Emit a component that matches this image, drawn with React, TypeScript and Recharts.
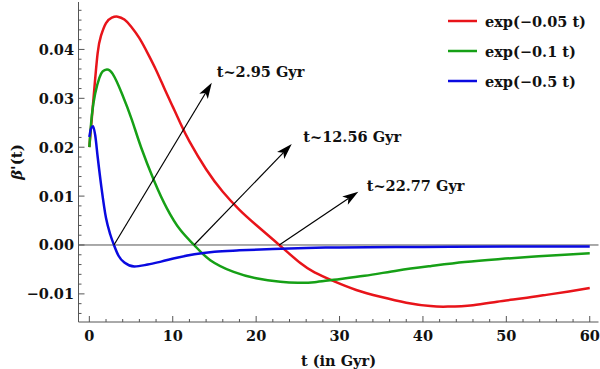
import { LineChart, Line, XAxis, YAxis, ReferenceLine, Legend } from 'recharts';

// curves: t in Gyr, v = beta'(t)
const redT = [0, 0.3, 0.6, 1.0, 1.4, 2, 2.7, 3.4, 4.2, 5, 6, 7, 8, 9, 10, 11, 12, 14, 16, 18, 20, 22.77, 25.3, 27, 29.3, 32, 34.9, 38, 40.9, 43, 46, 48.9, 52, 54.8, 57.5, 60];
const redV = [0.02, 0.026, 0.032, 0.0393, 0.0428, 0.0454, 0.0465, 0.0467, 0.0461, 0.0447, 0.0423, 0.0392, 0.0358, 0.0320, 0.0283, 0.0246, 0.0212, 0.0155, 0.0109, 0.0072, 0.0041, 0, -0.0037, -0.0056, -0.0074, -0.0092, -0.0106, -0.0118, -0.0125, -0.0126, -0.0123, -0.0116, -0.0109, -0.0102, -0.0095, -0.0088];

const greenT = [0, 0.3, 0.7, 1.2, 1.6, 2.1, 2.8, 3.9, 5.1, 6.2, 7.8, 9.3, 10.9, 12.56, 14.5, 17.3, 20, 22.9, 25, 27, 29.3, 33, 37, 41, 45, 49, 53, 57, 60];
const greenV = [0.02, 0.0265, 0.031, 0.0342, 0.0355, 0.0359, 0.035, 0.031, 0.0256, 0.02, 0.013, 0.0075, 0.0031, 0, -0.0031, -0.0055, -0.0068, -0.0075, -0.0077, -0.0076, -0.0071, -0.0063, -0.0052, -0.0043, -0.0035, -0.0029, -0.0024, -0.002, -0.0017];

const blueT = [0, 0.2, 0.45, 0.7, 1.0, 1.44, 2, 2.5, 2.95, 3.5, 4.2, 5.4, 7, 8.6, 10.5, 12.6, 15, 18, 22, 26, 30, 40, 50, 60];
const blueV = [0.0221, 0.0238, 0.0243, 0.0225, 0.018, 0.0119, 0.0055, 0.0022, 0, -0.0022, -0.0036, -0.0044, -0.004, -0.0034, -0.0026, -0.0019, -0.0014, -0.0011, -0.0008, -0.0006, -0.0005, -0.0004, -0.0003, -0.0003];

const seriesNames = ['exp(\u22120.05 t)', 'exp(\u22120.1 t)', 'exp(\u22120.5 t)'];
const seriesColors = ['#e8141a', '#16a016', '#0a0ae0'];

// zero crossings and their labels
const crossT = [2.95, 12.56, 22.77];
const crossLabels = ['t~2.95 Gyr', 't~12.56 Gyr', 't~22.77 Gyr'];
// arrow tips (data coords) and label offsets (px)
const tipT = [14.68, 24.27, 32.25];
const tipV = [0.0332, 0.02065, 0.0109];
const labelDx = [5, 11.6, 8.4];
const labelDy = [-11, -7.5, -6.7];

const xMajor = [0, 10, 20, 30, 40, 50, 60];
const yMajor = [-0.01, 0, 0.01, 0.02, 0.03, 0.04];
const yLabels = ['\u22120.01', '0.00', '0.01', '0.02', '0.03', '0.04'];

const xTicks: number[] = [];
for (let i = 0; i <= 30; i++) xTicks.push(i * 2);
const yTicks: number[] = [];
for (let i = -7; i <= 24; i++) yTicks.push(Math.round(i * 2) / 1000);

const toRows = (ts: number[], vs: number[]) => ts.map((t, i) => ({ t, v: vs[i] }));
const redData = toRows(redT, redV);
const greenData = toRows(greenT, greenV);
const blueData = toRows(blueT, blueV);

const FONT = '"DejaVu Serif", serif';
const FRAME = '#555';

const isXMajor = (v: number) => xMajor.includes(v);
const yMajorIndex = (v: number) => yMajor.findIndex((m) => Math.abs(m - v) < 1e-9);

const BottomTick = (props: any) => {
  const { x, y, payload } = props;
  const major = isXMajor(payload.value);
  return (
    <g>
      <line x1={x} x2={x} y1={y} y2={y - (major ? 6 : 3)} stroke={FRAME} />
      {major && (
        <text x={x} y={y + 13} textAnchor="middle" dominantBaseline="central" fontFamily={FONT} fontWeight="bold" fontSize={14.5} fill="#111">
          {payload.value}
        </text>
      )}
    </g>
  );
};

const TopTick = (props: any) => {
  const { x, y, payload } = props;
  const major = isXMajor(payload.value);
  return <line x1={x} x2={x} y1={y} y2={y + (major ? 6 : 3)} stroke={FRAME} />;
};

const LeftTick = (props: any) => {
  const { x, y, payload } = props;
  const idx = yMajorIndex(payload.value);
  return (
    <g>
      <line x1={x} x2={x + (idx >= 0 ? 6 : 3)} y1={y} y2={y} stroke={FRAME} />
      {idx >= 0 && (
        <text x={x - 4.5} y={y} textAnchor="end" dominantBaseline="central" fontFamily={FONT} fontWeight="bold" fontSize={14.5} fill="#111">
          {yLabels[idx]}
        </text>
      )}
    </g>
  );
};

const RightTick = (props: any) => {
  const { x, y, payload } = props;
  const major = yMajorIndex(payload.value) >= 0;
  return <line x1={x} x2={x - (major ? 6 : 3)} y1={y} y2={y} stroke={FRAME} />;
};

const makeArrow = (i: number) => (p: any) => {
  const { x1, y1, x2, y2 } = p;
  const a = Math.atan2(y2 - y1, x2 - x1);
  const c = Math.cos(a);
  const s = Math.sin(a);
  const L = 16;
  const W = 5;
  const bx = x2 - L * c;
  const by = y2 - L * s;
  const nx = x2 - L * 0.75 * c;
  const ny = y2 - L * 0.75 * s;
  return (
    <g>
      <line x1={x1} y1={y1} x2={nx} y2={ny} stroke="#000" strokeWidth={1.2} />
      <polygon points={`${x2},${y2} ${bx - s * W},${by + c * W} ${nx},${ny} ${bx + s * W},${by - c * W}`} fill="#000" />
      <text x={x2 + labelDx[i]} y={y2 + labelDy[i]} dominantBaseline="central" fontFamily={FONT} fontWeight="bold" fontSize={14.5} fill="#111">
        {crossLabels[i]}
      </text>
    </g>
  );
};

const renderLegend = () => (
  <div style={{ fontFamily: FONT, fontWeight: 'bold', fontSize: 14.5, color: '#111' }}>
    {seriesNames.map((name, i) => (
      <div key={name} style={{ height: 30, display: 'flex', alignItems: 'center' }}>
        <svg width={29} height={4} style={{ marginRight: 8 }}>
          <line x1={0} x2={29} y1={2} y2={2} stroke={seriesColors[i]} strokeWidth={2.5} />
        </svg>
        <span>{name}</span>
      </div>
    ))}
  </div>
);

const YLabel = (props: any) => {
  const { viewBox } = props;
  const cx = viewBox.x + 17;
  const cy = viewBox.y + viewBox.height / 2;
  return (
    <text x={cx} y={cy} transform={`rotate(-90 ${cx} ${cy})`} textAnchor="middle" dominantBaseline="central" fontFamily={FONT} fontWeight="bold" fontSize={15} fill="#111">
      <tspan fontStyle="italic">{'\u03b2'}</tspan>
      <tspan>{"'(t)"}</tspan>
    </text>
  );
};

const XLabel = (props: any) => {
  const { viewBox } = props;
  return (
    <text x={viewBox.x + viewBox.width / 2} y={viewBox.y + 38} textAnchor="middle" dominantBaseline="central" fontFamily={FONT} fontWeight="bold" fontSize={14.5} fill="#111">
      t (in Gyr)
    </text>
  );
};

const App = () => {
  const xDomain = [-1.3, 61.05];
  const yDomain = [-0.01575, 0.0497];
  return (
    <div style={{ position: 'absolute', left: 0, top: 0, width: 600, height: 369, background: '#fff' }}>
      <LineChart width={600} height={369} margin={{ top: 2, right: 1.5, bottom: 0, left: 0 }}>
        <XAxis
          type="number"
          dataKey="t"
          domain={xDomain}
          allowDataOverflow
          ticks={xTicks}
          interval={0}
          height={47}
          tickSize={0}
          tickMargin={0}
          tickLine={false}
          axisLine={{ stroke: FRAME }}
          tick={<BottomTick />}
          label={<XLabel />}
        />
        <XAxis
          xAxisId="top"
          orientation="top"
          type="number"
          dataKey="t"
          domain={xDomain}
          allowDataOverflow
          ticks={xTicks}
          interval={0}
          height={0}
          tickSize={0}
          tickMargin={0}
          tickLine={false}
          axisLine={{ stroke: FRAME }}
          tick={<TopTick />}
        />
        <YAxis
          type="number"
          domain={yDomain}
          allowDataOverflow
          ticks={yTicks}
          interval={0}
          width={78.5}
          tickSize={0}
          tickMargin={0}
          tickLine={false}
          axisLine={{ stroke: FRAME }}
          tick={<LeftTick />}
          label={<YLabel />}
        />
        <YAxis
          yAxisId="right"
          orientation="right"
          type="number"
          domain={yDomain}
          allowDataOverflow
          ticks={yTicks}
          interval={0}
          width={0}
          tickSize={0}
          tickMargin={0}
          tickLine={false}
          axisLine={{ stroke: FRAME }}
          tick={<RightTick />}
        />
        <ReferenceLine y={0} stroke={FRAME} strokeWidth={1} />
        <Line data={redData} dataKey="v" name={seriesNames[0]} type="natural" stroke={seriesColors[0]} strokeWidth={2.5} dot={false} isAnimationActive={false} />
        <Line data={greenData} dataKey="v" name={seriesNames[1]} type="natural" stroke={seriesColors[1]} strokeWidth={2.5} dot={false} isAnimationActive={false} />
        <Line data={blueData} dataKey="v" name={seriesNames[2]} type="monotone" stroke={seriesColors[2]} strokeWidth={2.5} dot={false} isAnimationActive={false} />
        {crossT.map((t, i) => (
          <ReferenceLine
            key={crossLabels[i]}
            segment={[{ x: t, y: 0 }, { x: tipT[i], y: tipV[i] }]}
            shape={makeArrow(i)}
          />
        ))}
        <Legend
          layout="vertical"
          align="center"
          verticalAlign="middle"
          wrapperStyle={{ position: 'absolute', left: 448, top: 6, width: 150 }}
          content={renderLegend}
        />
      </LineChart>
    </div>
  );
};

export default App;
